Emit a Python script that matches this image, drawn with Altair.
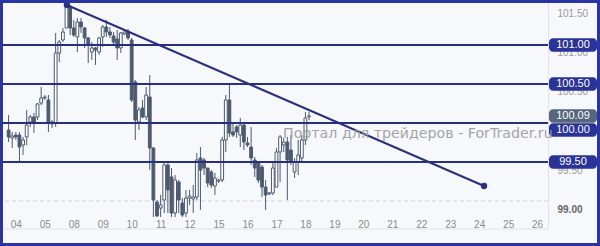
import altair as alt
import pandas as pd

days = ["04", "05", "08", "09", "10", "11", "12", "15", "16", "17",
        "18", "19", "20", "21", "22", "23", "24", "25", "26"]

opens = [99.910, 99.808, 99.846, 99.846, 99.718, 99.821, 100.013, 100.077, 100.077, 100.256,
         100.321, 100.295, 99.987, 100.000, 100.897, 101.064, 101.218, 101.487, 101.218, 101.103,
         101.295, 101.218, 101.090, 100.910, 100.962, 100.910, 101.103, 101.231, 101.167, 101.115,
         101.077, 100.962, 101.141, 101.167, 101.064, 100.526, 100.013, 100.192, 100.077, 100.333,
         99.679, 98.987, 98.910, 99.013, 99.462, 99.308, 98.846, 99.244, 98.974, 98.846,
         99.038, 99.026, 99.051, 99.551, 99.526, 99.423, 99.372, 99.192, 99.256, 99.269,
         99.782, 100.295, 99.885, 99.949, 99.846, 99.974, 99.744, 99.692, 99.526, 99.487,
         99.436, 99.179, 99.090, 99.103, 99.179, 99.628, 99.718, 99.756, 99.654, 99.372,
         99.500, 99.551, 99.782, 100.080]
highs = [100.103, 99.885, 99.885, 99.885, 99.821, 100.167, 100.103, 100.128, 100.256, 100.462,
         100.359, 100.359, 100.038, 101.154, 101.064, 101.218, 101.540, 101.513, 101.321, 101.346,
         101.346, 101.231, 101.103, 101.038, 100.974, 101.103, 101.256, 101.321, 101.231, 101.167,
         101.192, 101.167, 101.167, 101.205, 101.090, 100.551, 100.205, 100.295, 100.462, 100.615,
         99.692, 99.013, 99.077, 99.487, 99.487, 99.423, 99.333, 99.269, 99.038, 99.141,
         99.141, 99.205, 99.615, 99.692, 99.551, 99.423, 99.397, 99.359, 99.282, 99.821,
         100.359, 100.513, 100.000, 99.974, 100.064, 100.000, 99.821, 99.949, 99.564, 99.500,
         99.462, 99.269, 99.115, 99.487, 99.679, 99.846, 99.808, 99.821, 99.846, 99.551,
         99.782, 99.846, 100.141, 100.141]
lows = [99.756, 99.679, 99.782, 99.487, 99.590, 99.718, 99.949, 99.872, 100.038, 100.231,
        100.295, 99.885, 99.936, 99.949, 100.782, 101.038, 101.218, 101.128, 101.103, 100.910,
        101.154, 100.962, 100.769, 100.808, 100.744, 100.872, 100.974, 101.103, 101.090, 101.000,
        100.808, 100.897, 101.128, 101.064, 100.269, 99.782, 99.910, 100.064, 100.038, 99.397,
        98.780, 98.780, 98.780, 98.846, 98.846, 98.780, 98.780, 98.846, 98.780, 98.780,
        98.949, 98.846, 99.013, 98.885, 99.333, 99.179, 99.167, 99.077, 99.231, 99.244,
        99.628, 99.821, 99.821, 99.808, 99.692, 99.654, 99.692, 99.462, 99.308, 99.231,
        99.051, 98.885, 99.077, 99.077, 99.179, 99.244, 99.628, 99.013, 99.462, 99.295,
        99.333, 99.487, 99.718, 100.038]
closes = [99.821, 99.833, 99.821, 99.692, 99.782, 99.974, 100.077, 100.013, 100.244, 100.321,
          100.333, 100.013, 100.013, 100.897, 101.038, 101.167, 101.526, 101.218, 101.128, 101.295,
          101.231, 101.090, 101.000, 100.962, 100.936, 101.090, 101.231, 101.167, 101.128, 101.038,
          100.962, 101.154, 101.167, 101.090, 100.295, 100.038, 100.167, 100.077, 100.359, 99.679,
          99.013, 98.808, 98.949, 99.462, 99.141, 98.846, 99.269, 99.013, 98.821, 99.038,
          99.064, 99.051, 99.526, 99.397, 99.423, 99.231, 99.205, 99.295, 99.269, 99.782,
          100.295, 99.872, 99.846, 99.885, 99.974, 99.756, 99.718, 99.551, 99.423, 99.269,
          99.179, 99.077, 99.103, 99.423, 99.628, 99.821, 99.756, 99.526, 99.500, 99.500,
          99.590, 99.782, 100.064, 100.090]

levels = [101.00, 100.50, 100.00, 99.50]
grid_level = [99.00]
axis_values = [99.00, 99.50, 100.00, 100.50, 101.00, 101.50]
trend_bar = [14.1, 129.35]
trend_price = [101.513, 99.192]
current_price = [100.09]
watermark = "Портал для трейдеров - ForTrader.ru"

BARS_PER_DAY = 8
candles = pd.DataFrame({
    "bar": list(range(-2, len(opens) - 2)),
    "open": opens, "high": highs, "low": lows, "close": closes,
})
levels_df = pd.DataFrame({"level": levels})
trend_df = pd.DataFrame({"bar": trend_bar, "price": trend_price})
cur_df = pd.DataFrame({"level": current_price})
one = pd.DataFrame({"k": [0]})

NAVY = "#262e85"
BOX = "#2a3396"
SLATE = "#4c5a70"
FRAME = "#2b34a3"

xs = alt.Scale(domain=[-2.44, 145.63], nice=False, zero=False)
ys = alt.Scale(domain=[98.795, 101.551], nice=False, zero=False)

label_expr = "[" + ",".join("'%s'" % d for d in days) + "][round(datum.value/%d)]" % BARS_PER_DAY

x_axis = alt.Axis(values=[i * BARS_PER_DAY for i in range(len(days))], labelExpr=label_expr,
                  title=None, ticks=False, domain=False, grid=False, labelPadding=2,
                  labelColor="#8a8a8a", labelFontSize=10, labelFont="Liberation Sans",
                  labelOverlap=False, labelFlush=False)
y_axis = alt.Axis(orient="right", values=axis_values, format=".2f", title=None, ticks=False,
                  domain=False, grid=False, labelPadding=9, labelOffset=8, labelOverlap=False,
                  labelColor=alt.condition("datum.value == 99", alt.value("#666666"), alt.value("#9a9a9a")),
                  labelFontWeight=alt.condition("datum.value == 99", alt.value("bold"), alt.value("normal")),
                  labelFontSize=10, labelFont="Liberation Sans")

wicks = alt.Chart(candles).mark_rule(color=SLATE, strokeWidth=1, clip=True).encode(
    x=alt.X("bar:Q", scale=xs, axis=x_axis),
    y=alt.Y("low:Q", scale=ys, axis=y_axis),
    y2="high:Q",
)
bodies = alt.Chart(candles).mark_bar(size=2.8, stroke=SLATE, strokeWidth=1, clip=True).encode(
    x=alt.X("bar:Q", scale=xs, axis=x_axis),
    y=alt.Y("open:Q", scale=ys, axis=y_axis),
    y2="close:Q",
    fill=alt.condition("datum.close >= datum.open", alt.value("#ffffff"), alt.value(SLATE)),
)

grid99 = alt.Chart(pd.DataFrame({"level": grid_level})).mark_rule(
    color="#d0d3d8", strokeWidth=1, strokeDash=[4, 3]).encode(y=alt.Y("level:Q", scale=ys, axis=y_axis))

level_rules = alt.Chart(levels_df).mark_rule(color=NAVY, strokeWidth=2).encode(
    y=alt.Y("level:Q", scale=ys, axis=y_axis))

trend_line = alt.Chart(trend_df).mark_line(color="#2a2f80", strokeWidth=2).encode(
    x=alt.X("bar:Q", scale=xs, axis=x_axis), y=alt.Y("price:Q", scale=ys, axis=y_axis))
trend_pts = alt.Chart(trend_df).mark_circle(color="#2a2f80", size=40, opacity=1).encode(
    x=alt.X("bar:Q", scale=xs, axis=x_axis), y=alt.Y("price:Q", scale=ys, axis=y_axis))

sep_v = alt.Chart(one).mark_rule(color="#e0e2e7", strokeWidth=1).encode(
    x=alt.value(546.5), y=alt.value(0), y2=alt.value(227))
sep_h = alt.Chart(one).mark_rule(color="#e0e2e7", strokeWidth=1).encode(
    x=alt.value(0), x2=alt.value(546.5), y=alt.value(227))

box_half = 0.087
main_levels = levels_df[levels_df.level != 100.0]
mid_level = levels_df[levels_df.level == 100.0]

def level_box(df, color, offset=0):
    return alt.Chart(df).transform_calculate(
        lo="datum.level - %f" % box_half, hi="datum.level + %f" % box_half
    ).mark_rect(color=color, cornerRadius=4, yOffset=offset, y2Offset=offset).encode(
        x=alt.value(547), x2=alt.value(595),
        y=alt.Y("lo:Q", scale=ys, axis=y_axis), y2="hi:Q")

def level_text(df, offset=0):
    return alt.Chart(df).mark_text(color="white", fontSize=11, font="Liberation Sans",
                                   align="center", baseline="middle", dy=offset).encode(
        x=alt.value(571), y=alt.Y("level:Q", scale=ys, axis=y_axis),
        text=alt.Text("level:Q", format=".2f"))

boxes = level_box(main_levels, BOX) + level_text(main_levels)
cur_box = level_box(cur_df, "#56667d") + level_text(cur_df)
mid_box = level_box(mid_level, BOX, 7) + level_text(mid_level, 7)

wm = alt.Chart(one).mark_text(text=watermark, fontSize=14.2, font="DejaVu Sans", color="#9c9c9c",
                              opacity=0.9, align="left", baseline="alphabetic").encode(
    x=alt.value(281), y=alt.value(136))

frame = alt.Chart(one).mark_rect(fillOpacity=0, stroke=FRAME, strokeWidth=3).encode(
    x=alt.value(-0.5), x2=alt.value(596.5), y=alt.value(-0.5), y2=alt.value(242.5))

chart = alt.layer(
    sep_v, sep_h, grid99, wicks, bodies, level_rules, trend_line, trend_pts,
    boxes, cur_box, mid_box, wm, frame
).properties(
    width=546, height=215,
    autosize=alt.AutoSizeParams(type="none"),
    padding={"left": 2, "top": 2, "right": 52, "bottom": 29},
    background="#f7f8fb",
).configure_view(stroke=None).configure_axisX(labelOverlap=False).configure_axisY(labelOverlap=False)

chart.save("out.html", embed_options={"renderer": "svg", "actions": False})
